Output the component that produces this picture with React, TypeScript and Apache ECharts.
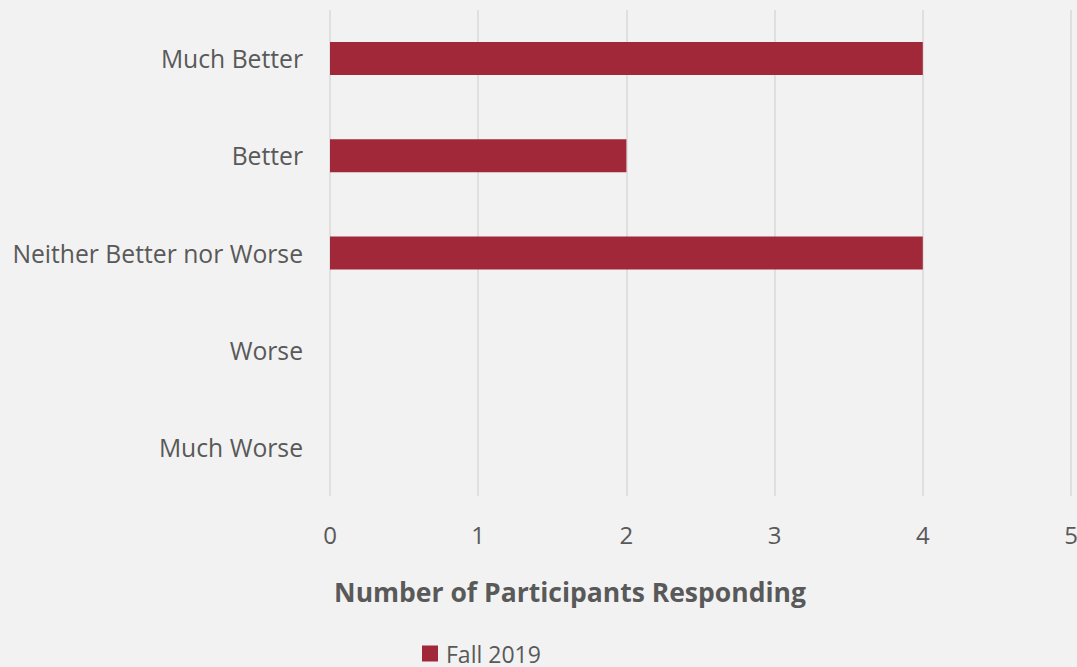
import React, { useEffect, useRef } from "react";
import * as echarts from "echarts";

const categories = ["Much Better", "Better", "Neither Better nor Worse", "Worse", "Much Worse"];
const seriesName = "Fall 2019";
const values = [4, 2, 4, 0, 0];
const axisTitle = "Number of Participants Responding";

const FONT = "'Open Sans', sans-serif";
const TEXT = "#595959";

export default function App() {
  const ref = useRef<HTMLDivElement>(null);
  useEffect(() => {
    if (!ref.current) return;
    const chart = echarts.init(ref.current, null, { renderer: "svg" });
    chart.setOption({
      animation: false,
      backgroundColor: "#f2f2f2",
      grid: { left: 330, right: 6, top: 10, bottom: 171, containLabel: false, outerBoundsMode: "none" },
      xAxis: {
        type: "value",
        min: 0,
        max: 5,
        interval: 1,
        axisLine: { show: false },
        axisTick: { show: false },
        splitLine: { show: true, lineStyle: { color: "#d9d9d9", width: 1.5 } },
        axisLabel: { color: TEXT, fontFamily: FONT, fontSize: 24, margin: 26 },
      },
      yAxis: {
        type: "category",
        inverse: true,
        data: categories,
        axisLine: { show: false },
        axisTick: { show: false },
        splitLine: { show: false },
        axisLabel: { color: TEXT, fontFamily: FONT, fontSize: 24.7, margin: 27 },
      },
      legend: {
        data: [seriesName],
        left: 417,
        top: 637,
        padding: 5,
        icon: "rect",
        itemWidth: 16,
        itemHeight: 16,
        textStyle: { color: TEXT, fontFamily: FONT, fontSize: 23, lineHeight: 20, padding: [0, 0, 0, 3] },
      },
      graphic: [
        {
          type: "text",
          x: 570,
          y: 592,
          style: {
            text: axisTitle,
            align: "center",
            verticalAlign: "middle",
            fill: TEXT,
            font: `bold 26.5px ${FONT}`,
          },
        },
      ],
      series: [
        {
          name: seriesName,
          type: "bar",
          data: values,
          barCategoryGap: "66%",
          itemStyle: { color: "#a02838" },
        },
      ],
    });
    return () => chart.dispose();
  }, []);
  return (
    <div
      ref={ref}
      style={{ position: "fixed", left: 0, top: 0, width: 1077, height: 667 }}
    />
  );
}
